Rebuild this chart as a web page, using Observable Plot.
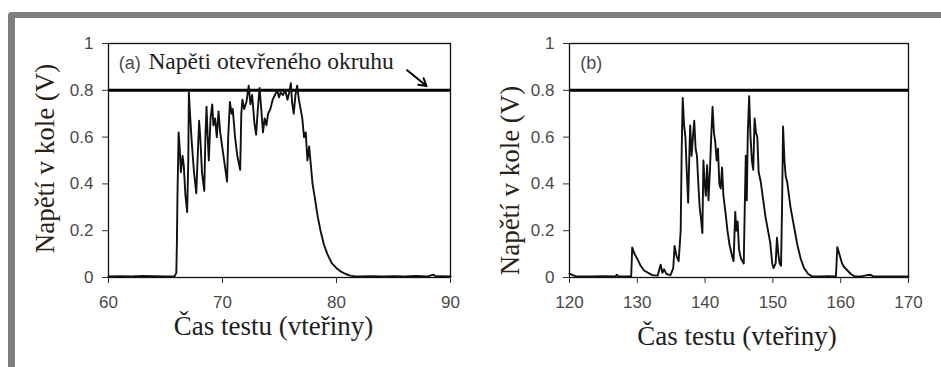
<!DOCTYPE html>
<html>
<head>
<meta charset="utf-8">
<script src="https://cdn.jsdelivr.net/npm/d3@7"></script>
<script src="https://cdn.jsdelivr.net/npm/@observablehq/plot@0.6"></script>
<style>
  html, body { margin: 0; padding: 0; background: #fff; }
  #wrap { position: relative; width: 941px; height: 367px; overflow: hidden; background: #fff; }
  #frame { position: absolute; left: 8px; top: 12px; width: 1000px; height: 500px;
           border-top: 6px solid #7f7f7f; border-left: 7px solid #7f7f7f; border-top-left-radius: 4px; }
  #pa { position: absolute; left: 0; top: 0; }
  #pb { position: absolute; left: 470px; top: 0; }
  svg { overflow: visible; }
</style>
</head>
<body>
<div id="wrap">
  <div id="frame"></div>
  <div id="pa"></div>
  <div id="pb"></div>
</div>
<script>
// ---- data ----
const yTicks = [0, 0.2, 0.4, 0.6, 0.8, 1];
const xTicksA = [60, 70, 80, 90];
const xTicksB = [120, 130, 140, 150, 160, 170];
const openCircuit = [0.8];
const yLabel = "Napětí v kole (V)";
const xLabel = "Čas testu (vteřiny)";
const noteA = "Napěti otevřeného okruhu";
const tagA = "(a)";
const tagB = "(b)";

const timeA = [60, 61, 62, 63, 64, 65, 65.8, 65.95, 66.0, 66.05, 66.15, 66.25, 66.35, 66.5, 66.6, 66.75, 66.9, 67.0, 67.05, 67.15, 67.3, 67.5, 67.7, 67.85, 67.95, 68.05, 68.2, 68.4, 68.5, 68.6, 68.7, 68.8, 68.95, 69.1, 69.2, 69.35, 69.5, 69.65, 69.8, 70.0, 70.2, 70.4, 70.5, 70.65, 70.8, 70.9, 71.1, 71.3, 71.55, 71.65, 71.75, 71.9, 72.1, 72.3, 72.45, 72.6, 72.8, 72.95, 73.1, 73.25, 73.4, 73.55, 73.7, 73.85, 74.0, 74.2, 74.4, 74.6, 74.8, 74.95, 75.1, 75.3, 75.5, 75.7, 75.85, 76.0, 76.1, 76.25, 76.4, 76.55, 76.7, 76.85, 77.0, 77.15, 77.3, 77.45, 77.6, 77.75, 77.9, 78.1, 78.35, 78.6, 78.9, 79.2, 79.6, 80.0, 80.4, 80.8, 81.2, 81.6, 82, 83, 84, 85, 86, 87, 88, 88.5, 88.7, 89, 90];
const voltA = [0.005, 0.006, 0.005, 0.007, 0.006, 0.005, 0.006, 0.02, 0.15, 0.35, 0.62, 0.55, 0.45, 0.52, 0.48, 0.35, 0.28, 0.5, 0.79, 0.7, 0.58, 0.45, 0.36, 0.55, 0.67, 0.6, 0.45, 0.37, 0.6, 0.73, 0.6, 0.5, 0.68, 0.74, 0.65, 0.68, 0.6, 0.71, 0.62, 0.55, 0.48, 0.41, 0.6, 0.75, 0.7, 0.72, 0.6, 0.52, 0.46, 0.7, 0.76, 0.72, 0.75, 0.82, 0.74, 0.78, 0.66, 0.61, 0.72, 0.81, 0.72, 0.62, 0.68, 0.65, 0.7, 0.72, 0.76, 0.78, 0.80, 0.77, 0.79, 0.78, 0.8, 0.76, 0.79, 0.83, 0.75, 0.7, 0.78, 0.82, 0.76, 0.72, 0.68, 0.6, 0.62, 0.5, 0.56, 0.48, 0.4, 0.34, 0.26, 0.2, 0.14, 0.1, 0.06, 0.04, 0.025, 0.015, 0.008, 0.005, 0.005, 0.006, 0.004, 0.006, 0.005, 0.007, 0.005, 0.012, 0.005, 0.006, 0.005];

const timeB = [120, 120.5, 121, 123, 125, 126.8, 127.0, 127.2, 129.1, 129.25, 129.6, 130.0, 130.5, 131.0, 131.6, 132.2, 133.0, 133.3, 133.45, 133.7, 133.95, 134.3, 134.9, 135.3, 135.5, 135.8, 136.1, 136.4, 136.55, 136.7, 136.9, 137.1, 137.3, 137.5, 137.7, 137.8, 138.0, 138.2, 138.4, 138.6, 138.8, 139.0, 139.2, 139.4, 139.6, 139.75, 139.9, 140.1, 140.3, 140.5, 140.7, 140.9, 141.1, 141.3, 141.5, 141.7, 141.9, 142.1, 142.3, 142.5, 142.7, 143.0, 143.3, 143.6, 144.0, 144.2, 144.45, 144.6, 144.8, 145.0, 145.3, 145.7, 145.85, 146.0, 146.15, 146.3, 146.5, 146.7, 146.9, 147.1, 147.3, 147.5, 147.7, 147.9, 148.2, 148.9, 149.6, 149.9, 150.1, 150.4, 150.6, 150.8, 151.0, 151.2, 151.35, 151.5, 151.7, 151.9, 152.1, 152.6, 153.1, 153.6, 154.1, 154.6, 155.2, 155.8, 157, 158, 159.3, 159.5, 159.8, 160.2, 160.5, 161, 161.5, 162, 163, 163.9, 164.4, 164.8, 166, 168, 170];
const voltB = [0.017, 0.01, 0.005, 0.005, 0.006, 0.005, 0.012, 0.005, 0.006, 0.128, 0.1, 0.08, 0.05, 0.03, 0.02, 0.01, 0.008, 0.04, 0.055, 0.02, 0.035, 0.015, 0.01, 0.04, 0.135, 0.09, 0.07, 0.2, 0.55, 0.767, 0.65, 0.6, 0.45, 0.32, 0.55, 0.65, 0.52, 0.6, 0.67, 0.55, 0.52, 0.4, 0.3, 0.25, 0.19, 0.5, 0.42, 0.35, 0.48, 0.33, 0.45, 0.6, 0.73, 0.62, 0.58, 0.5, 0.55, 0.4, 0.38, 0.47, 0.35, 0.28, 0.2, 0.14, 0.09, 0.07, 0.28, 0.2, 0.24, 0.12, 0.08, 0.06, 0.3, 0.52, 0.33, 0.62, 0.775, 0.6, 0.5, 0.46, 0.68, 0.62, 0.6, 0.45, 0.41, 0.26, 0.15, 0.06, 0.04, 0.06, 0.17, 0.1, 0.06, 0.05, 0.3, 0.645, 0.5, 0.43, 0.41, 0.3, 0.22, 0.14, 0.08, 0.04, 0.015, 0.005, 0.005, 0.006, 0.005, 0.13, 0.1, 0.06, 0.045, 0.03, 0.015, 0.006, 0.005, 0.01, 0.012, 0.005, 0.005, 0.005, 0.005];

// annotation anchors (data units)
const tagPosA = [{x: 60.9, y: 0.917}];
const tagPosB = [{x: 121.6, y: 0.917}];
const notePos = [{x: 63.5, y: 0.925}];
const arrowA = [{x1: 86.2, y1: 0.886, x2: 87.9, y2: 0.818}];

const SERIF = "'Liberation Serif', 'Times New Roman', serif";

// ---- build ----
const seriesA = timeA.map((t, i) => ({t, v: voltA[i]}));
const seriesB = timeB.map((t, i) => ({t, v: voltB[i]}));

function panel({data, xDomain, xTicks, width, mL, mR, tagPos, tag, extra, xLabDx, xLabDy, yLabDx, yLabDy}) {
  return Plot.plot({
    width, height: 367,
    marginLeft: mL, marginRight: mR, marginTop: 43, marginBottom: 90,
    x: {domain: xDomain},
    y: {domain: [0, 1]},
    style: {fontFamily: "'Liberation Sans', Arial, sans-serif", fontSize: "17px", color: "#4a4a4a", background: "transparent", overflow: "visible"},
    marks: [
      Plot.ruleY(openCircuit, {stroke: "#000", strokeWidth: 3}),
      Plot.line(data, {x: "t", y: "v", stroke: "#111", strokeWidth: 1.9}),
      Plot.frame({stroke: "#111", strokeWidth: 1.3}),
      Plot.axisY({ticks: yTicks, tickFormat: d => String(d), tickSize: 6, tickPadding: 9, label: null, stroke: "#333", fontSize: 17}),
      Plot.axisX({ticks: xTicks, tickFormat: d => String(d), tickSize: 6, tickPadding: 12, label: null, stroke: "#333", fontSize: 17}),
      Plot.text(tagPos, {x: "x", y: "y", text: () => tag, textAnchor: "start", lineAnchor: "middle", fontSize: 18, fill: "#4a4a4a"}),
      Plot.text([xLabel], {frameAnchor: "bottom", dx: xLabDx, dy: xLabDy, textAnchor: "middle", lineAnchor: "middle", text: d => d, fontFamily: SERIF, fontSize: 27, fill: "#1e1e1e"}),
      Plot.text([yLabel], {frameAnchor: "left", dx: yLabDx, dy: yLabDy, rotate: -90, textAnchor: "middle", lineAnchor: "middle", text: d => d, fontFamily: SERIF, fontSize: 27, fill: "#2a2218"}),
      ...extra
    ]
  });
}

const extraA = [
  Plot.text(notePos, {x: "x", y: "y", text: () => noteA, textAnchor: "start", lineAnchor: "middle", fontFamily: SERIF, fontSize: 23.5, fill: "#1e1e1e"}),
  Plot.arrow(arrowA, {x1: "x1", y1: "y1", x2: "x2", y2: "y2", stroke: "#000", strokeWidth: 2, headLength: 9})
];

document.getElementById("pa").append(panel({
  data: seriesA, xDomain: [60, 90], xTicks: xTicksA, width: 470, mL: 108, mR: 20,
  tagPos: tagPosA, tag: tagA, extra: extraA, xLabDx: -6, xLabDy: 49, yLabDx: -63, yLabDy: -2
}));
document.getElementById("pb").append(panel({
  data: seriesB, xDomain: [120, 170], xTicks: xTicksB, width: 471, mL: 99, mR: 33,
  tagPos: tagPosB, tag: tagB, extra: [], xLabDx: -2, xLabDy: 59, yLabDx: -59, yLabDy: 20
}));
</script>
</body>
</html>
